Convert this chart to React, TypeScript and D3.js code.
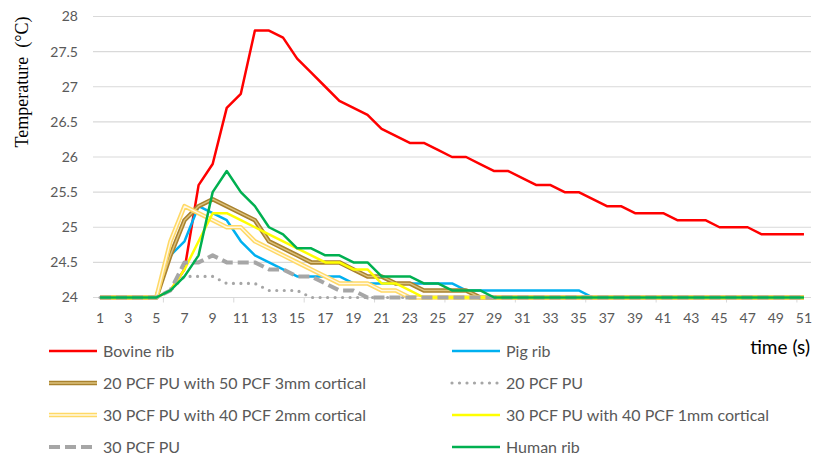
import React from "react";
import * as d3 from "d3";

const times = [
  1, 2, 3, 4, 5, 6, 7, 8, 9, 10, 11, 12, 13, 14, 15, 16, 17, 18, 19, 20, 21, 22, 23, 24, 25, 26,
  27, 28, 29, 30, 31, 32, 33, 34, 35, 36, 37, 38, 39, 40, 41, 42, 43, 44, 45, 46, 47, 48, 49, 50, 51,
];

const bovineRib = [
  24, 24, 24, 24, 24, 24.1, 24.4, 25.6, 25.9, 26.7, 26.9, 27.8, 27.8, 27.7, 27.4, 27.2, 27.0, 26.8,
  26.7, 26.6, 26.4, 26.3, 26.2, 26.2, 26.1, 26.0, 26.0, 25.9, 25.8, 25.8, 25.7, 25.6, 25.6, 25.5,
  25.5, 25.4, 25.3, 25.3, 25.2, 25.2, 25.2, 25.1, 25.1, 25.1, 25.0, 25.0, 25.0, 24.9, 24.9, 24.9, 24.9,
];
const pigRib = [
  24, 24, 24, 24, 24, 24.6, 24.8, 25.3, 25.2, 25.1, 24.8, 24.6, 24.5, 24.4, 24.3, 24.3, 24.3, 24.3,
  24.2, 24.2, 24.2, 24.2, 24.2, 24.2, 24.2, 24.2, 24.1, 24.1, 24.1, 24.1, 24.1, 24.1, 24.1, 24.1,
  24.1, 24, 24, 24, 24, 24, 24, 24, 24, 24, 24, 24, 24, 24, 24, 24, 24,
];
const pu20Cortical50 = [
  24, 24, 24, 24, 24, 24.6, 25.1, 25.3, 25.4, 25.3, 25.2, 25.1, 24.8, 24.7, 24.6, 24.5, 24.5, 24.5,
  24.4, 24.3, 24.3, 24.2, 24.2, 24.1, 24.1, 24.1, 24.1, 24, 24, 24, 24, 24, 24, 24, 24, 24, 24, 24,
  24, 24, 24, 24, 24, 24, 24, 24, 24, 24, 24, 24, 24,
];
const pu20 = [
  24, 24, 24, 24, 24, 24.1, 24.3, 24.3, 24.3, 24.2, 24.2, 24.2, 24.1, 24.1, 24.1, 24, 24, 24, 24, 24,
  24, 24, 24, 24, 24, 24, 24, 24, 24, 24, 24, 24, 24, 24, 24, 24, 24, 24, 24, 24, 24, 24, 24, 24, 24,
  24, 24, 24, 24, 24, 24,
];
const pu30Cortical40x2 = [
  24, 24, 24, 24, 24, 24.8, 25.3, 25.2, 25.1, 25.0, 25.0, 24.8, 24.7, 24.6, 24.5, 24.4, 24.3, 24.2,
  24.2, 24.2, 24.1, 24.1, 24, 24, 24, 24, 24, 24, 24, 24, 24, 24, 24, 24, 24, 24, 24, 24, 24, 24, 24,
  24, 24, 24, 24, 24, 24, 24, 24, 24, 24,
];
const pu30Cortical40x1 = [
  24, 24, 24, 24, 24, 24.1, 24.4, 24.8, 25.2, 25.2, 25.1, 25.0, 24.9, 24.8, 24.7, 24.6, 24.5, 24.5,
  24.4, 24.4, 24.2, 24.2, 24.1, 24, 24, 24, 24, 24, 24, 24, 24, 24, 24, 24, 24, 24, 24, 24, 24, 24,
  24, 24, 24, 24, 24, 24, 24, 24, 24, 24, 24,
];
const pu30 = [
  24, 24, 24, 24, 24, 24.1, 24.5, 24.5, 24.6, 24.5, 24.5, 24.5, 24.4, 24.4, 24.3, 24.3, 24.2, 24.1,
  24.1, 24, 24, 24, 24, 24, 24, 24, 24, 24, 24, 24, 24, 24, 24, 24, 24, 24, 24, 24, 24, 24, 24, 24,
  24, 24, 24, 24, 24, 24, 24, 24, 24,
];
const humanRib = [
  24, 24, 24, 24, 24, 24.1, 24.3, 24.6, 25.5, 25.8, 25.5, 25.3, 25.0, 24.9, 24.7, 24.7, 24.6, 24.6,
  24.5, 24.5, 24.3, 24.3, 24.3, 24.2, 24.2, 24.1, 24.1, 24.1, 24, 24, 24, 24, 24, 24, 24, 24, 24, 24,
  24, 24, 24, 24, 24, 24, 24, 24, 24, 24, 24, 24, 24,
];

const yTicks = [24, 24.5, 25, 25.5, 26, 26.5, 27, 27.5, 28];

// line styles (Excel look)
type Style = { color: string; width: number; dash?: string; cap?: string; inner?: string };

const series: { name: string; values: number[]; style: Style }[] = [
  { name: "Bovine rib", values: bovineRib, style: { color: "#FF0000", width: 2.5 } },
  { name: "Pig rib", values: pigRib, style: { color: "#00B0F0", width: 2.5 } },
  {
    name: "20 PCF PU with 50 PCF 3mm cortical",
    values: pu20Cortical50,
    style: { color: "#A9822E", width: 4.5, inner: "#DCC27E" },
  },
  {
    name: "20 PCF PU",
    values: pu20,
    style: { color: "#A6A6A6", width: 3.2, dash: "0,7.5", cap: "round" },
  },
  {
    name: "30 PCF PU with 40 PCF 2mm cortical",
    values: pu30Cortical40x2,
    style: { color: "#FFD966", width: 4.5, inner: "#FFF8E4" },
  },
  {
    name: "30 PCF PU with 40 PCF 1mm cortical",
    values: pu30Cortical40x1,
    style: { color: "#FFFF00", width: 2.5 },
  },
  { name: "30 PCF PU", values: pu30, style: { color: "#A6A6A6", width: 4, dash: "11,5" } },
  { name: "Human rib", values: humanRib, style: { color: "#00B050", width: 2.5 } },
];

const font = "Lato, 'Open Sans', sans-serif";

const StyledPath = ({ d, style }: { d: string; style: Style }) => (
  <g>
    <path
      d={d}
      fill="none"
      stroke={style.color}
      strokeWidth={style.width}
      strokeDasharray={style.dash}
      strokeLinecap={(style.cap as any) || "butt"}
      strokeLinejoin="round"
    />
    {style.inner && (
      <path d={d} fill="none" stroke={style.inner} strokeWidth={1.4} strokeLinejoin="round" />
    )}
  </g>
);

const Chart = () => {
  const width = 814;
  const height = 456;

  const x = d3.scaleBand<number>().domain(times).range([93, 811]);
  const cx = (t: number) => (x(t) as number) + x.bandwidth() / 2;
  const y = d3.scaleLinear().domain([24, 28]).range([297.5, 16.5]);

  const line = d3
    .line<number>()
    .x((_, i) => cx(times[i]))
    .y((v) => y(v));

  const legendCols = [49, 452];
  const legendRows = [351, 383, 415, 447];

  return (
    <svg
      width={width}
      height={height}
      style={{ position: "absolute", left: 0, top: 0, background: "#fff" }}
    >
      {/* gridlines */}
      {yTicks.map((t) => (
        <line key={t} x1={93} x2={811} y1={y(t)} y2={y(t)} stroke="#D9D9D9" strokeWidth={1.2} />
      ))}
      {/* category tick marks */}
      {times
        .filter((t) => t % 5 === 0)
        .map((t) => {
          const bx = (x(t) as number) + x.bandwidth();
          return (
            <line key={t} x1={bx} x2={bx} y1={y(24)} y2={y(24) + 5} stroke="#D9D9D9" />
          );
        })}
      {/* y tick labels */}
      {yTicks.map((t) => (
        <text
          key={t}
          x={78}
          y={y(t)}
          dy="0.35em"
          textAnchor="end"
          fontFamily={font}
          fontSize={14}
          fill="#595959"
        >
          {t}
        </text>
      ))}
      {/* x tick labels */}
      {times
        .filter((t) => t % 2 === 1)
        .map((t) => (
          <text
            key={t}
            x={cx(t)}
            y={318}
            dy="0.35em"
            textAnchor="middle"
            fontFamily={font}
            fontSize={14}
            fill="#595959"
          >
            {t}
          </text>
        ))}
      {/* y axis title */}
      <text
        transform="translate(22,82) rotate(-90)"
        textAnchor="middle"
        dy="0.35em"
        fontFamily="'Liberation Serif', 'Times New Roman', serif"
        fontSize={18}
        fill="#000"
        xmlSpace="preserve"
      >
        {"Temperature  (°C)"}
      </text>
      {/* series */}
      {series.map((s) => (
        <StyledPath key={s.name} d={line(s.values) as string} style={s.style} />
      ))}
      {/* x axis title */}
      <text x={810} y={347} dy="0.35em" textAnchor="end" fontFamily={font} fontSize={19} fill="#000">
        time (s)
      </text>
      {/* legend */}
      {series.map((s, i) => {
        const lx = legendCols[i % 2];
        const ly = legendRows[Math.floor(i / 2)];
        const d = `M${lx},${ly}H${lx + 48}`;
        return (
          <g key={s.name}>
            <StyledPath d={d} style={s.style} />
            <text
              x={lx + 54}
              y={ly}
              dy="0.35em"
              fontFamily={font}
              fontSize={16}
              fill="#595959"
            >
              {s.name}
            </text>
          </g>
        );
      })}
    </svg>
  );
};

export default function App() {
  return <Chart />;
}
